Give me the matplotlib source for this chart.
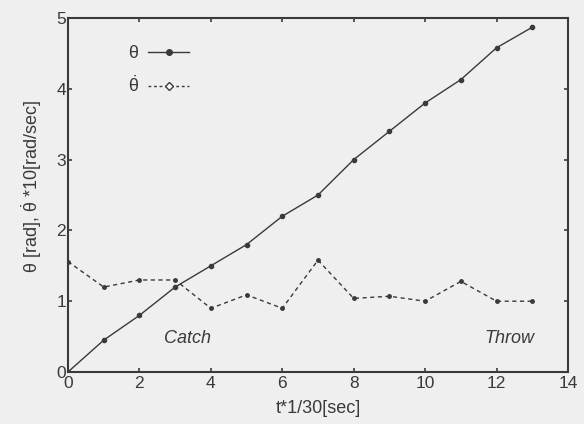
import matplotlib
matplotlib.use("Agg")
import matplotlib.pyplot as plt
from matplotlib.lines import Line2D

# frame index (t * 1/30 sec)
t = list(range(14))
# joint angle theta [rad]
theta = [0.0, 0.45, 0.8, 1.2, 1.5, 1.8, 2.2, 2.5, 3.0, 3.4, 3.8, 4.13, 4.58, 4.87]
# angular velocity theta_dot * 10 [rad/sec]
theta_dot = [1.56, 1.2, 1.3, 1.3, 0.9, 1.09, 0.9, 1.58, 1.04, 1.07, 1.0, 1.28, 1.0, 1.0]

plt.rcParams['font.family'] = ['Liberation Sans', 'DejaVu Sans']
plt.rcParams['mathtext.fontset'] = 'custom'
plt.rcParams['mathtext.rm'] = 'Liberation Sans'
plt.rcParams['mathtext.it'] = 'Liberation Sans:italic'

ink = '#3a3a3a'
bg = '#efefef'

fig = plt.figure(figsize=(5.84, 4.24), dpi=100, facecolor=bg)
ax = fig.add_axes([0.1164, 0.1226, 0.8562, 0.8349], facecolor=bg)

ax.plot(t, theta, color=ink, lw=1.0, marker='o', ms=3)
ax.plot(t, theta_dot, color=ink, lw=1.0, ls=(0, (3, 2.5)), marker='o', ms=2.5)

ax.set_xlim(0, 14)
ax.set_ylim(0, 5)
ax.set_xticks(range(0, 15, 2))
ax.set_yticks(range(0, 6))
ax.tick_params(direction='in', top=True, right=True, length=3, width=1.2,
               colors=ink, labelsize=12.5)
ax.tick_params(axis='x', pad=3)
ax.tick_params(axis='y', pad=1.5)
for sp in ax.spines.values():
    sp.set_linewidth(1.5)
    sp.set_color(ink)

th = r'$\mathrm{\theta}$'
thd = r'$\dot{\mathrm{\theta}}$'
ax.set_xlabel('t*1/30[sec]', fontsize=13, color=ink, labelpad=6)
ax.set_ylabel(th + ' [rad], ' + thd + ' *10[rad/sec]', fontsize=13, color=ink)
ax.yaxis.set_label_coords(-0.048, 0.525)

ax.text(3.36, 0.48, 'Catch', style='italic', fontsize=13, color=ink,
        ha='center', va='center')
ax.text(12.35, 0.48, 'Throw', style='italic', fontsize=13, color=ink,
        ha='center', va='center')

handles = [
    Line2D([], [], color=ink, lw=1.0, marker='o', ms=4),
    Line2D([], [], color=ink, lw=1.0, ls=(0, (2, 2)), marker='D', ms=4,
           mfc='white', mec=ink),
]
leg = ax.legend(handles, [th, thd], loc='upper left',
                bbox_to_anchor=(0.087, 0.97), frameon=False, markerfirst=False,
                handlelength=2.3, labelspacing=0.75, fontsize=13,
                handletextpad=0.5)
for txt in leg.get_texts():
    txt.set_color(ink)

fig.savefig('out.png', dpi=100, facecolor=bg)
